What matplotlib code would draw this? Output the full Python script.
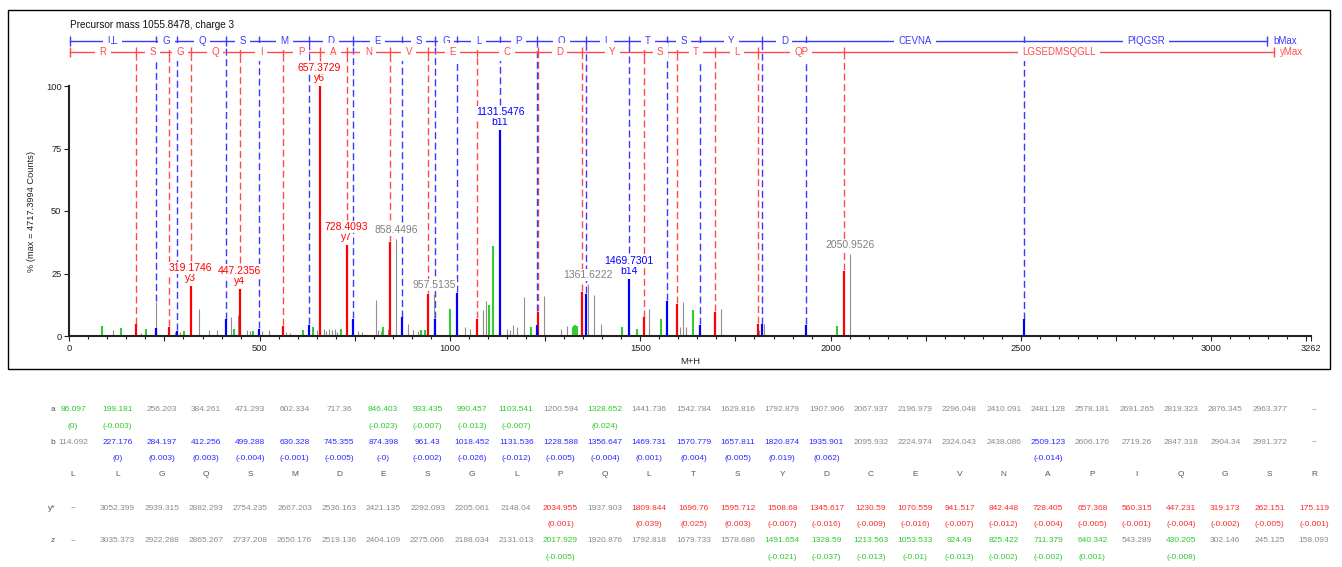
import matplotlib
matplotlib.use('Agg')
import matplotlib.pyplot as plt
from matplotlib.patches import Rectangle

plt.rcParams['font.family'] = ['Liberation Sans', 'DejaVu Sans']

# ---------------- data ----------------
title = "Precursor mass 1055.8478, charge 3"
ylabel = "% (max = 4717.3994 Counts)"
xlabel = "M+H"

# y ions (red)
y_mz = [175.119, 262.151, 319.1746, 447.2356, 560.315, 657.3729, 728.4093, 842.448, 941.517,
        1070.559, 1230.59, 1345.617, 1508.68, 1595.712, 1696.76, 1809.844, 2034.955]
y_int = [4.7, 3.7, 20.0, 19.0, 4.0, 100.0, 36.4, 37.6, 17.0, 7.0, 9.7, 17.7, 7.5, 13.0, 9.7, 4.8, 26.0]
y_res = ['R', 'S', 'G', 'Q', 'I', 'P', 'A', 'N', 'V', 'E', 'C', 'D', 'Y', 'S', 'T', 'L', 'QP', 'LGSEDMSQGLL']
y_labels = {2: 'y3', 3: 'y4', 5: 'y6', 6: 'y7'}

# b ions (blue)
b_mz = [227.176, 284.197, 412.256, 499.288, 630.328, 745.355, 874.398, 961.43, 1018.452, 1131.5476,
        1228.588, 1356.647, 1469.7301, 1570.779, 1657.811, 1820.874, 1935.901, 2509.123]
b_int = [3.3, 2.1, 6.7, 2.9, 4.4, 7.0, 7.5, 7.0, 17.3, 82.4, 4.4, 17.0, 23.0, 14.0, 4.4, 4.7, 4.4, 6.7]
b_res = ['LL', 'G', 'Q', 'S', 'M', 'D', 'E', 'S', 'G', 'L', 'P', 'Q', 'L', 'T', 'S', 'Y', 'D', 'CEVNA', 'PIQGSR']
b_labels = {9: 'b11', 12: 'b14'}

b_max = 3147.5
y_max = 3165.5

# other matched (green)
green_mz = [86.8, 135.8, 201.5, 301.0, 432.0, 483.0, 613.0, 641.0, 713.0, 825.4, 924.5, 933.4,
            1000.0, 1103.5, 1113.7, 1212.0, 1322.0, 1326.0, 1329.0, 1333.0, 1451.8, 1490.4,
            1553.5, 1639.0, 2017.4]
green_int = [4.0, 3.3, 2.7, 2.1, 2.9, 2.0, 2.4, 3.7, 2.9, 3.7, 2.5, 2.5,
             11.0, 12.4, 36.0, 3.7, 3.5, 4.2, 4.4, 4.2, 3.7, 2.9,
             7.0, 10.4, 4.0]

# unassigned (gray)
gray_mz = [115.6, 187.5, 229.0, 277.6, 290.8, 340.7, 367.0, 387.0, 424.0, 442.0, 467.6, 474.6,
           505.0, 525.0, 569.0, 580.0, 650.0, 668.0, 675.0, 683.0, 690.0, 697.0, 703.0,
           759.0, 768.0, 805.6, 812.0, 820.0, 838.0, 858.4496, 890.6, 903.6, 916.8, 957.5135,
           1039.0, 1052.5, 1086.0, 1094.5, 1149.0, 1157.6, 1166.0, 1177.0, 1194.0, 1247.0,
           1290.8, 1306.6, 1319.7, 1361.6222, 1378.0, 1396.0, 1523.5, 1604.0, 1613.0, 1619.0,
           1712.0, 1812.5, 1825.6, 2050.9526]
gray_int = [2.4, 1.3, 13.6, 1.7, 1.5, 10.9, 2.4, 2.4, 7.5, 8.3, 2.5, 2.2,
            2.0, 2.5, 1.5, 1.3, 2.5, 2.7, 2.0, 3.0, 2.3, 2.8, 1.8,
            2.0, 1.6, 14.4, 2.5, 2.0, 3.0, 39.0, 4.7, 2.5, 2.0, 17.0,
            3.7, 3.0, 10.4, 14.0, 3.0, 2.4, 4.4, 3.7, 15.7, 16.0,
            3.0, 4.0, 2.4, 21.0, 16.4, 4.7, 11.0, 3.5, 13.7, 3.5,
            11.0, 2.4, 4.7, 32.8]
gray_labels = ['858.4496', '957.5135', '1361.6222', '2050.9526']

# fragment table
residues = list('LLGQSMDESGLPQLTSYDCEVNAPIQGSR')
a_vals = ['86.097', '199.181', '256.203', '384.261', '471.293', '602.334', '717.36', '846.403', '933.435',
          '990.457', '1103.541', '1200.594', '1328.652', '1441.736', '1542.784', '1629.816', '1792.879',
          '1907.906', '2067.937', '2196.979', '2296.048', '2410.091', '2481.128', '2578.181', '2691.265',
          '2819.323', '2876.345', '2963.377', '--']
a_err = ['(0)', '(-0.003)', None, None, None, None, None, '(-0.023)', '(-0.007)', '(-0.013)', '(-0.007)',
         None, '(0.024)'] + [None] * 16
b_vals = ['114.092', '227.176', '284.197', '412.256', '499.288', '630.328', '745.355', '874.398', '961.43',
          '1018.452', '1131.536', '1228.588', '1356.647', '1469.731', '1570.779', '1657.811', '1820.874',
          '1935.901', '2095.932', '2224.974', '2324.043', '2438.086', '2509.123', '2606.176', '2719.26',
          '2847.318', '2904.34', '2991.372', '--']
b_err = [None, '(0)', '(0.003)', '(0.003)', '(-0.004)', '(-0.001)', '(-0.005)', '(-0)', '(-0.002)',
         '(-0.026)', '(-0.012)', '(-0.005)', '(-0.004)', '(0.001)', '(0.004)', '(0.005)', '(0.019)',
         '(0.062)', None, None, None, None, '(-0.014)', None, None, None, None, None, None]
yt_vals = ['--', '3052.399', '2939.315', '2882.293', '2754.235', '2667.203', '2536.163', '2421.135',
           '2292.093', '2205.061', '2148.04', '2034.955', '1937.903', '1809.844', '1696.76', '1595.712',
           '1508.68', '1345.617', '1230.59', '1070.559', '941.517', '842.448', '728.405', '657.368',
           '560.315', '447.231', '319.173', '262.151', '175.119']
yt_err = [None] * 11 + ['(0.001)', None, '(0.039)', '(0.025)', '(0.003)', '(-0.007)', '(-0.016)',
                        '(-0.009)', '(-0.016)', '(-0.007)', '(-0.012)', '(-0.004)', '(-0.005)',
                        '(-0.001)', '(-0.004)', '(-0.002)', '(-0.005)', '(-0.001)']
z_vals = ['--', '3035.373', '2922.288', '2865.267', '2737.208', '2650.176', '2519.136', '2404.109',
          '2275.066', '2188.034', '2131.013', '2017.929', '1920.876', '1792.818', '1679.733', '1578.686',
          '1491.654', '1328.59', '1213.563', '1053.533', '924.49', '825.422', '711.379', '640.342',
          '543.289', '430.205', '302.146', '245.125', '158.093']
z_err = [None] * 11 + ['(-0.005)', None, None, None, None, '(-0.021)', '(-0.037)', '(-0.013)', '(-0.01)',
                       '(-0.013)', '(-0.002)', '(-0.002)', '(0.001)', None, '(-0.008)', None, None, None]
row_names = ['a', 'b', 'y*', 'z']

# ---------------- style ----------------
RED = '#ff0000'
RED_L = '#ff4a4a'
BLUE = '#0000ff'
BLUE_L = '#3a3aff'
GREEN = '#33cc33'
GRAY = '#8f8f8f'
TGRAY = '#8a8a8a'

W, H = 1342, 567
fig = plt.figure(figsize=(W / 100, H / 100), dpi=100)


def fx(px):
    return px / W


def fy(py):
    return 1 - py / H


x0px, x1px = 69.3, 1311.0
base_px, top_px = 336.0, 14.0
PX_PER_PCT = 2.5
XMAX = 3262
YTOP = (base_px - top_px) / PX_PER_PCT

ax = fig.add_axes([fx(x0px), fy(base_px), (x1px - x0px) / W, (base_px - top_px) / H])
ax.set_xlim(0, XMAX)
ax.set_ylim(0, YTOP)
ax.patch.set_alpha(0)
for s in ['top', 'right']:
    ax.spines[s].set_visible(False)
ax.spines['left'].set_bounds(0, 100)
ax.spines['left'].set_linewidth(1.5)
ax.spines['bottom'].set_linewidth(1.5)
ax.spines['left'].set_color('#222222')
ax.spines['bottom'].set_color('#222222')

major = list(range(0, 3251, 250)) + [XMAX]
ax.set_xticks(major)
ax.set_xticklabels([str(v) if (v % 500 == 0 or v == XMAX) else '' for v in major])
ax.set_xticks(list(range(0, 3262, 50)), minor=True)
ax.set_yticks([0, 25, 50, 75, 100])
ax.tick_params(axis='both', which='major', labelsize=6.7, colors='#222222', length=3.6, width=0.8, pad=2)
ax.tick_params(axis='x', which='minor', length=2.0, width=0.8, colors='#222222')
ax.set_xlabel(xlabel, fontsize=6.8, labelpad=3, color='#222222')
fig.text(fx(31), fy(211), ylabel, rotation=90, fontsize=6.7, ha='center', va='center', color='#222222')

# ladders
BL_Y = (base_px - 41) / PX_PER_PCT
RL_Y = (base_px - 52) / PX_PER_PCT
TICK = 2.0
LAD_START = 1.0
ax.text(2, (base_px - 25) / PX_PER_PCT, title, fontsize=7.2, va='center', ha='left', color='#111111')

label_box = dict(boxstyle='square,pad=0.45', fc='white', ec='none')


def ladder(pos, names, yy, color, endname):
    ax.plot([pos[0], pos[-1]], [yy, yy], color=color, lw=1.0, zorder=3, clip_on=False)
    ax.vlines(pos, yy - TICK, yy + TICK, color=color, lw=1.0, zorder=3, clip_on=False)
    for i, nm in enumerate(names):
        ax.text((pos[i] + pos[i + 1]) / 2, yy, nm, color=color, fontsize=7, ha='center', va='center',
                bbox=label_box, zorder=4, clip_on=False)
    ax.annotate(endname, (pos[-1], yy), xytext=(4, 0), textcoords='offset points', color=color,
                fontsize=7, ha='left', va='center', annotation_clip=False)


b_pos = [LAD_START] + b_mz + [b_max]
y_pos = [LAD_START] + y_mz + [y_max]
ladder(b_pos, b_res, BL_Y, BLUE_L, 'bMax')
ladder(y_pos, y_res, RL_Y, RED_L, 'yMax')

all_mz = y_mz + b_mz + green_mz + gray_mz
all_int = y_int + b_int + green_int + gray_int


def stop_height(m):
    return max(h for mm, h in zip(all_mz, all_int) if abs(mm - m) < 3.0)


LBL1 = 3.2
LBL2 = 7.2
dash = (0, (5, 2.6))
for i, m in enumerate(y_mz):
    top = stop_height(m) + (LBL2 + 3.0 if i in y_labels else 0.3)
    ax.vlines(m, top, RL_Y - TICK, colors=RED_L, linestyles=dash, lw=1.0, zorder=1)
for i, m in enumerate(b_mz):
    top = stop_height(m) + (LBL2 + 3.0 if i in b_labels else 0.3)
    ax.vlines(m, top, BL_Y - TICK, colors=BLUE_L, linestyles=dash, lw=1.0, zorder=1)

# peaks
ax.vlines(gray_mz, 0, gray_int, colors=GRAY, lw=0.8, zorder=2)
ax.vlines(green_mz, 0, green_int, colors=GREEN, lw=1.5, zorder=2)
ax.vlines(y_mz, 0, y_int, colors=RED, lw=1.6, zorder=2)
ax.vlines(b_mz, 0, b_int, colors=BLUE, lw=1.6, zorder=2)

pk_box = dict(boxstyle='square,pad=0.1', fc='white', ec='none')
for i, nm in y_labels.items():
    ax.text(y_mz[i], y_int[i] + LBL1, nm, color=RED, fontsize=7.5, ha='center', va='center', bbox=pk_box, zorder=5)
    ax.text(y_mz[i], y_int[i] + LBL2, '%.4f' % y_mz[i], color=RED, fontsize=7.5, ha='center', va='center',
            bbox=pk_box, zorder=5)
for i, nm in b_labels.items():
    ax.text(b_mz[i], b_int[i] + LBL1, nm, color=BLUE, fontsize=7.5, ha='center', va='center', bbox=pk_box, zorder=5)
    ax.text(b_mz[i], b_int[i] + LBL2, '%.4f' % b_mz[i], color=BLUE, fontsize=7.5, ha='center', va='center',
            bbox=pk_box, zorder=5)
for s in gray_labels:
    m = float(s)
    h = gray_int[gray_mz.index(m)]
    ax.text(m, h + 3.4, s, color='#808080', fontsize=7.5, ha='center', va='center', bbox=pk_box, zorder=5)

# outer frame
fig.add_artist(Rectangle((fx(8), fy(369)), (1330 - 8) / W, (369 - 10) / H, transform=fig.transFigure,
                         fill=False, ec='black', lw=1.0))

# ---------------- table ----------------
col_x = [73 + i * 44.32 for i in range(29)]
TFS = 6.0


def trow(vals, errs, yv, ye, color):
    for i, v in enumerate(vals):
        c = color if errs[i] is not None else TGRAY
        fig.text(fx(col_x[i]), fy(yv), v, fontsize=TFS, color=c, ha='center', va='center')
        if errs[i] is not None:
            fig.text(fx(col_x[i]), fy(ye), errs[i], fontsize=TFS, color=color, ha='center', va='center')


trow(a_vals, a_err, 409.5, 426.5, '#2ec82e')
trow(b_vals, b_err, 442, 458, '#2a2aff')
for i, r in enumerate(residues):
    fig.text(fx(col_x[i]), fy(475), r, fontsize=TFS, color='#555555', ha='center', va='center')
trow(yt_vals, yt_err, 508, 524.5, '#ff2a2a')
trow(z_vals, z_err, 541, 557.5, '#2ec82e')
for nm, yv in zip(row_names, [409.5, 442, 508, 541]):
    fig.text(fx(55), fy(yv), nm, fontsize=TFS, color='#555555', ha='right', va='center')

fig.savefig('out.png', dpi=100)
